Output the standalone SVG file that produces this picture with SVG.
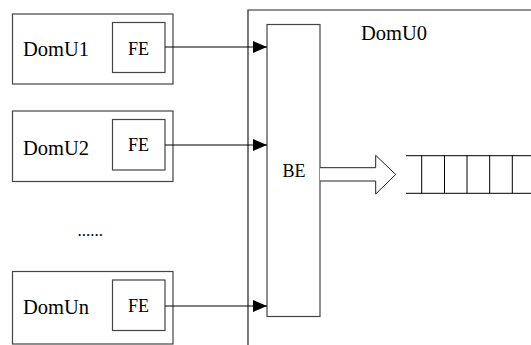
<svg xmlns="http://www.w3.org/2000/svg" width="531" height="345" viewBox="0 0 531 345">
<defs>
<style>
.box{fill:#fff;stroke:#444;stroke-width:1.2}
.ln{fill:none;stroke:#000;stroke-width:1}
.lbl{font-family:"Liberation Serif","Times New Roman",serif;font-size:20.5px;fill:#000}
.fe{font-family:"Liberation Serif","Times New Roman",serif;font-size:18px;fill:#000}
</style>
<marker id="ah" markerUnits="userSpaceOnUse" markerWidth="14" markerHeight="12" viewBox="0 0 14 12" refX="14" refY="6" orient="auto">
<path d="M0,0 L14,6 L0,12 Z" fill="#000"/>
</marker>
</defs>
<rect width="531" height="345" fill="#fff"/>
<g id="domu0">
<path class="box" d="M531,10 H248 V345" style="stroke:#222"/>
<text class="lbl" x="361" y="40">DomU0</text>
</g>
<g id="be">
<rect class="box" x="267" y="24.5" width="53" height="292"/>
<text class="fe" x="282.5" y="176.5">BE</text>
</g>
<g id="domu1">
<rect class="box" x="12.5" y="14" width="160.5" height="70"/>
<text class="lbl" x="23" y="56">DomU1</text>
</g>
<g id="fe1">
<rect class="box" x="112.5" y="22.5" width="52.5" height="50"/>
<text class="fe" x="128" y="54.5">FE</text>
</g>
<g id="domu2">
<rect class="box" x="12.5" y="111" width="160.5" height="70.5"/>
<text class="lbl" x="23" y="155">DomU2</text>
</g>
<g id="fe2">
<rect class="box" x="112.5" y="119.5" width="52.5" height="50.5"/>
<text class="fe" x="128" y="150.5">FE</text>
</g>
<g id="dots">
<text class="fe" x="77.5" y="235.5" style="font-size:17px">......</text>
</g>
<g id="domun">
<rect class="box" x="12.5" y="271.5" width="160.5" height="72.5"/>
<text class="lbl" x="23" y="314">DomUn</text>
</g>
<g id="fen">
<rect class="box" x="112.5" y="280" width="52.5" height="50.5"/>
<text class="fe" x="128" y="311.5">FE</text>
</g>
<g id="queue">
<path class="ln" d="M406,155.7 H531 M406,193.3 H531 M421.7,155.7 V193.3 M444.5,155.7 V193.3 M467,155.7 V193.3 M489.7,155.7 V193.3 M512.3,155.7 V193.3"/>
</g>
<g id="connectors">
<path class="ln" d="M165,47 H267" marker-end="url(#ah)"/>
<path class="ln" d="M165,145 H267" marker-end="url(#ah)"/>
<path class="ln" d="M165,306 H267" marker-end="url(#ah)"/>
<path d="M320,167.7 H375.7 V155.3 L395.7,174.5 L375.7,194 V181 H320" fill="#fff" stroke="#222" stroke-width="1"/>
</g>
</svg>
